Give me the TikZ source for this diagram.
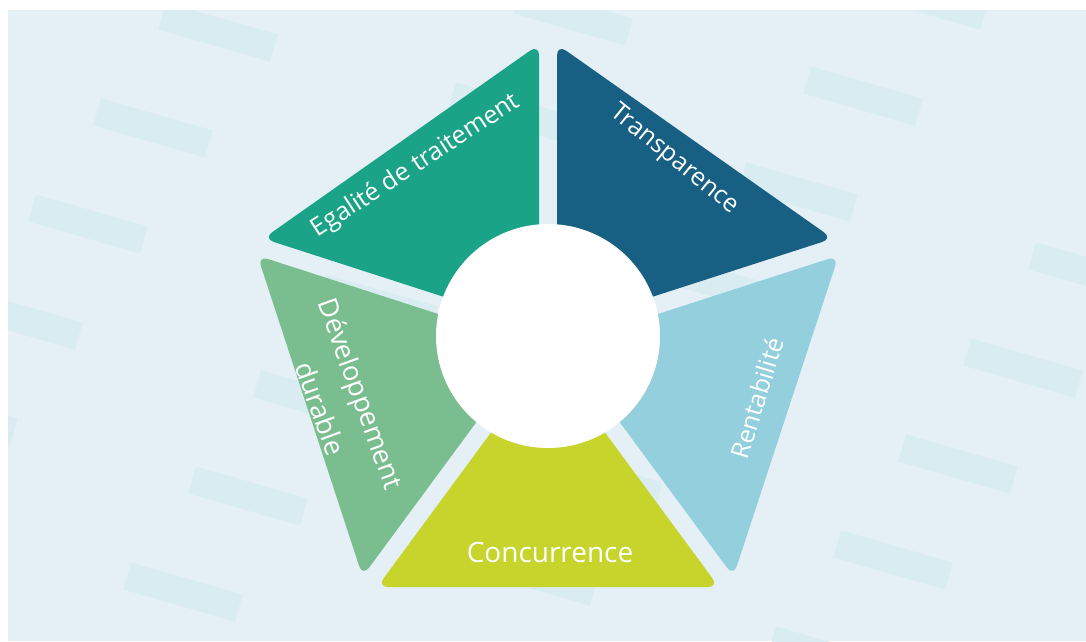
\documentclass[tikz,border=0pt]{standalone}
\usepackage{fontspec}
\setmainfont{Open Sans}
\usepackage{tikz}
\usetikzlibrary{calc}

\definecolor{bgblue}{HTML}{E4F0F5}
\definecolor{dashblue}{HTML}{D9ECF1}
\definecolor{egalite}{HTML}{1BA388}
\definecolor{transp}{HTML}{176083}
\definecolor{rentab}{HTML}{94CFDD}
\definecolor{concur}{HTML}{C6D42B}
\definecolor{devdur}{HTML}{7ABD8F}

\tikzset{piece/.style={rounded corners=11pt}}
\tikzset{lbl/.style={text=white, font=\fontsize{25}{42}\selectfont, align=center, inner sep=0pt}}
\tikzset{hub/.style={circle, fill=white, minimum size=224pt, inner sep=0pt}}

% one slice of the pentagon, between the spokes to #1 and #2
\newcommand{\slice}[4]{%
  \coordinate (#4pa) at ($(C)!9pt!-90:(#1)$);
  \coordinate (#4pb) at ($(C)!9pt!90:(#2)$);
  \coordinate (#4ea) at ($(#4pa)+(#1)-(C)$);
  \coordinate (#4eb) at ($(#4pb)+(#2)-(C)$);
  \coordinate (#4qa) at (intersection of #4pa--#4ea and #1--#2);
  \coordinate (#4qb) at (intersection of #4pb--#4eb and #1--#2);
  \coordinate (#4in) at (intersection of #4pa--#4ea and #4pb--#4eb);
  \fill[piece, #3] (#4in) -- (#4qa) -- (#4qb) -- cycle;
}

\begin{document}
\begin{tikzpicture}[x=1pt,y=-1pt]
  \useasboundingbox (0,0) rectangle (1086,641);
  \fill[white] (0,0) rectangle (1086,641);
  \fill[bgblue] (8,10) rectangle (1086,641);
  % faint dashes in the background
  \begin{scope}
    \clip (8,10) rectangle (1086,641);
    \foreach \i in {-1,...,4}{
      \foreach \j in {-2,...,7}{
        \pgfmathsetmacro{\dx}{\i*290-\j*65+218}
        \pgfmathsetmacro{\dy}{\i*80+\j*96+32}
        \fill[dashblue, rotate around={-16:(\dx,\dy)}] (\dx-58,\dy-14) rectangle (\dx+58,\dy+14);
      }
    }
  \end{scope}

  \coordinate (C) at (548,340);
  \coordinate (V0) at (548,38);
  \coordinate (V1) at (842,245);
  \coordinate (V2) at (730,587);
  \coordinate (V3) at (366,587);
  \coordinate (V4) at (254,245);

  \slice{V0}{V1}{transp}{tr}
  \slice{V1}{V2}{rentab}{re}
  \slice{V2}{V3}{concur}{co}
  \slice{V3}{V4}{devdur}{dd}
  \slice{V4}{V0}{egalite}{eg}

  \node[hub] (centre) at (548,336) {};

  \node[lbl, rotate=33] (eglbl) at (416,166) {Egalité de traitement};
  \node[lbl, rotate=-39] (trlbl) at (674,160) {Transparence};
  \node[lbl, rotate=73] (relbl) at (757,398) {Rentabilité};
  \node[lbl, rotate=-70, font=\fontsize{27}{43}\selectfont] (ddlbl) at (341,401) {Développement\\durable};
  \node[lbl, font=\fontsize{28}{34}\selectfont] (colbl) at (550,552) {Concurrence};
\end{tikzpicture}
\end{document}
